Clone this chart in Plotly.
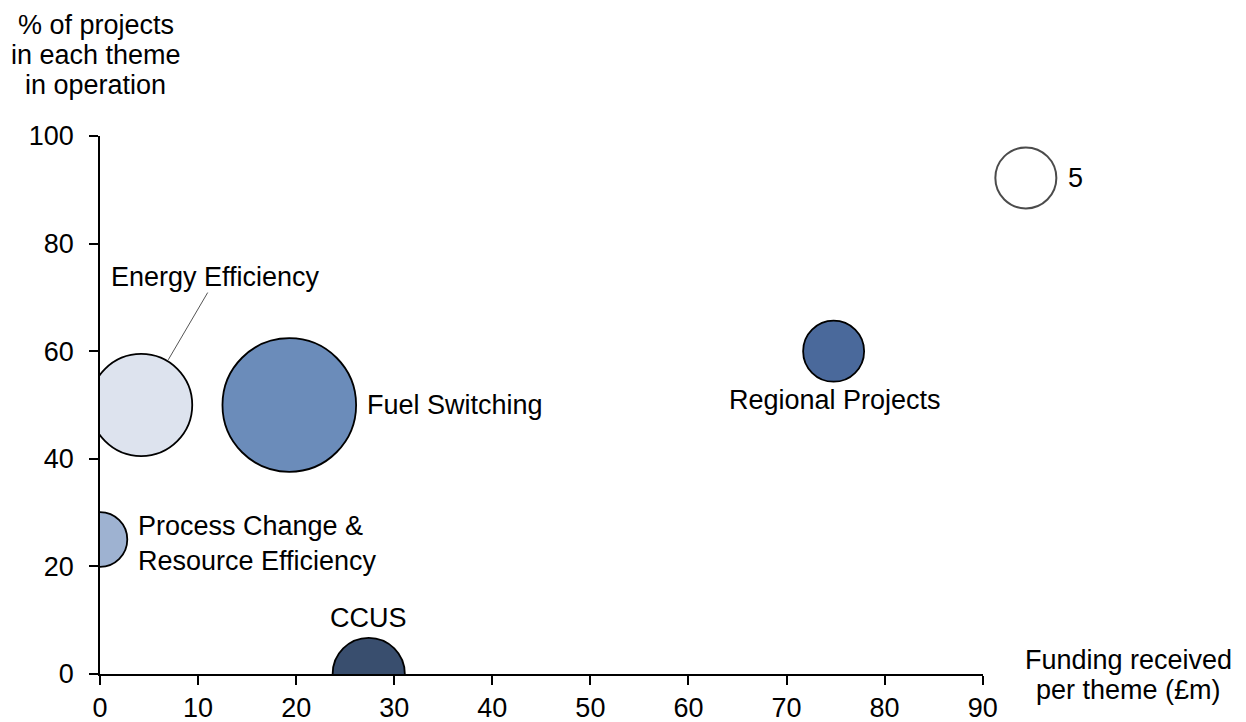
import plotly.graph_objects as go

# Data
themes = ["Energy Efficiency", "Fuel Switching", "Process Change &<br>Resource Efficiency", "CCUS", "Regional Projects"]
funding = [4.2, 19.3, 0.0, 27.4, 74.8]          # £m
pct_operation = [50, 50, 25, 0, 60]              # %
n_projects = [14, 24, 4, 7, 5]                   # bubble size
colors = ["#DDE3EE", "#6B8CBA", "#9EB2D1", "#394E6E", "#4A699B"]

key_size = 5
key_x = 94.4
key_y = 92.2

x_ticks = [0, 10, 20, 30, 40, 50, 60, 70, 80, 90]
y_ticks = [0, 20, 40, 60, 80, 100]

y_title_lines = ["% of projects", "in each theme", "in operation"]
x_title_lines = ["Funding received", "per theme (£m)"]

FONT = "Liberation Sans, Arial, sans-serif"
FS = 27
sizeref = 2.0 * key_size / 61.0 ** 2

# page body has an 8px margin; the figure is sized to fill the rest of the window
W, H = 1238, 714
ML, MR, MT, MB = 92, 2, 128, 47.7
PW = W - ML - MR
PH = H - MT - MB
MAIN_W = 882.7
x_main_end = MAIN_W / PW
x2_max = 90 + (PW - MAIN_W) / (MAIN_W / 90)

fig = go.Figure()
fig.add_trace(go.Scatter(
    x=funding, y=pct_operation, mode="markers",
    marker=dict(size=n_projects, sizemode="area", sizeref=sizeref,
                color=colors, line=dict(color="black", width=1.8), opacity=1),
    cliponaxis=True, hoverinfo="skip", showlegend=False,
))
fig.add_trace(go.Scatter(
    x=[key_x], y=[key_y], mode="markers", xaxis="x2", yaxis="y",
    marker=dict(size=[key_size], sizemode="area", sizeref=sizeref,
                color="white", line=dict(color="black", width=2)),
    cliponaxis=False, hoverinfo="skip", showlegend=False,
))

def px_x(px):
    return (px - 100) / PW

def px_y(py):
    return (136 + PH - py) / PH

ann_font = dict(family=FONT, size=FS, color="black")
annotations = [
    dict(x=0.92, y=73.8, xref="x", yref="y", text="Energy Efficiency", xanchor="left", yanchor="middle"),
    dict(x=27.0, y=50.0, xref="x", yref="y", text="Fuel Switching", xanchor="left", yanchor="middle"),
    dict(x=74.9, y=51.0, xref="x", yref="y", text="Regional Projects", xanchor="center", yanchor="middle"),
    dict(x=3.67, y=24.2, xref="x", yref="y", text=themes[2], xanchor="left", yanchor="middle", align="left"),
    dict(x=27.4, y=10.5, xref="x", yref="y", text="CCUS", xanchor="center", yanchor="middle"),
    dict(x=px_x(1066), y=px_y(178), xref="paper", yref="paper", text=str(key_size), xanchor="left", yanchor="middle"),
]
for line, py in zip(x_title_lines, [660, 690]):
    annotations.append(dict(x=px_x(1128), y=px_y(py), xref="paper", yref="paper", text=line,
                            xanchor="center", yanchor="middle"))
for line, py in zip(y_title_lines, [25, 55, 85]):
    annotations.append(dict(x=px_x(95.5), y=px_y(py), xref="paper", yref="paper", text=line,
                            xanchor="center", yanchor="middle"))
for a in annotations:
    a.update(showarrow=False, font=ann_font)

fig.add_shape(type="line", xref="x", yref="y", x0=10.98, y0=70.9, x1=6.96, y1=58.4,
              line=dict(color="#555555", width=1))

axis_common = dict(showgrid=False, zeroline=False, showline=True, linecolor="black", linewidth=1.6,
                   ticks="outside", ticklen=9, tickwidth=1.6, tickcolor="black", automargin=False,
                   tickfont=dict(family=FONT, size=FS, color="black"), fixedrange=True)

fig.update_layout(
    width=W, height=H,
    margin=dict(l=ML, r=MR, t=MT, b=MB, pad=0),
    paper_bgcolor="white", plot_bgcolor="white",
    xaxis=dict(range=[0, 90], domain=[0, x_main_end], tickvals=x_ticks, ticklabelstandoff=0, **axis_common),
    xaxis2=dict(range=[90, x2_max], domain=[x_main_end, 1], anchor="y", visible=False, fixedrange=True),
    yaxis=dict(range=[0, 100], tickvals=y_ticks, ticklabelstandoff=10, **axis_common),
    annotations=annotations,
    font=dict(family=FONT, size=FS, color="black"),
)

fig.write_html("out.html")
